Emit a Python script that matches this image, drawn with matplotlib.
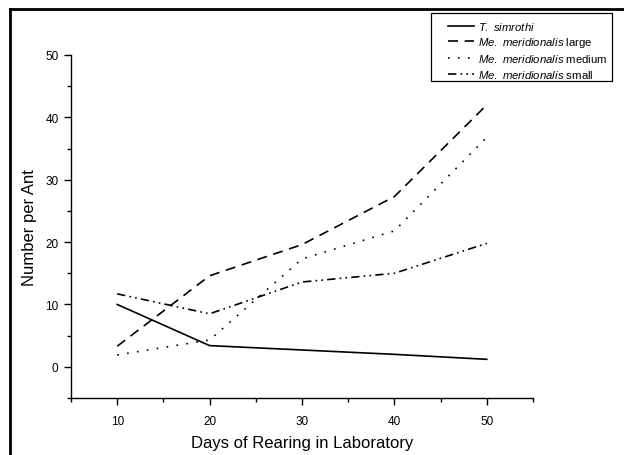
import numpy as np
import matplotlib
matplotlib.use("Agg")
import matplotlib.pyplot as plt
from matplotlib.lines import Line2D
from matplotlib.patches import Rectangle

plt.rcParams['font.family'] = ['Liberation Sans', 'DejaVu Sans']
plt.rcParams['mathtext.fontset'] = 'custom'
plt.rcParams['mathtext.rm'] = 'Liberation Sans'
plt.rcParams['mathtext.it'] = 'Liberation Sans:italic'

days = [10, 20, 30, 40, 50]
simrothi = [10.0, 3.4, 2.7, 2.0, 1.2]
mer_large = [3.3, 14.6, 19.6, 27.3, 42.0]
mer_medium = [1.9, 4.3, 17.3, 21.8, 36.8]
mer_small = [11.7, 8.5, 13.6, 15.0, 19.8]

labels = [r'$\it{T.\ simrothi}$',
          r'$\it{Me.\ meridionalis}$ large',
          r'$\it{Me.\ meridionalis}$ medium',
          r'$\it{Me.\ meridionalis}$ small']
styles = ['-', (0, (6, 4)), (0, (1, 5)), (0, (5, 2.5, 1, 2.5, 1, 2.5))]

W, H = 624, 456


def main():
    fig = plt.figure(figsize=(W / 100, H / 100), dpi=100)
    ax = fig.add_axes([71 / W, 57 / H, 462 / W, 343 / H])

    series = [simrothi, mer_large, mer_medium, mer_small]
    for ys, ls, lab in zip(series, styles, labels):
        ax.plot(days, ys, color='black', linestyle=ls, linewidth=1.2, label=lab)

    ax.set_xlim(5, 55)
    ax.set_ylim(-5, 50)
    ax.set_xticks([10, 20, 30, 40, 50])
    ax.set_xticks([5, 15, 25, 35, 45, 55], minor=True)
    ax.set_yticks([0, 10, 20, 30, 40, 50])
    ax.set_yticks([-5, 5, 15, 25, 35, 45], minor=True)
    ax.spines['top'].set_visible(False)
    ax.spines['right'].set_visible(False)
    for s in ['left', 'bottom']:
        ax.spines[s].set_linewidth(1.0)
    ax.tick_params(which='both', direction='out', width=1.0, labelsize=8.5)
    ax.tick_params(which='major', length=5)
    ax.tick_params(axis='x', which='major', pad=7)
    ax.tick_params(axis='y', which='major', pad=4)
    ax.tick_params(which='minor', length=3)
    ax.set_xlabel('Days of Rearing in Laboratory', fontsize=12, labelpad=6)
    ax.set_ylabel('Number per Ant', fontsize=12, labelpad=6)

    leg = ax.legend(loc='upper left', bbox_to_anchor=(448 / W, 1 - 21 / H),
                    bbox_transform=fig.transFigure, fontsize=8.2, frameon=False,
                    handlelength=2.3, handletextpad=0.3, labelspacing=0.28,
                    borderpad=0, borderaxespad=0)
    # legend box drawn by hand, text runs close to its right edge
    fig.add_artist(Rectangle((431 / W, 1 - 82 / H), 181 / W, 68 / H,
                             transform=fig.transFigure, fill=False,
                             edgecolor='black', linewidth=0.9))

    # frame of the original figure, only left and top edges show
    fig.add_artist(Line2D([10 / W, 10 / W], [0, 1 - 9.5 / H], color='black',
                          linewidth=2.0, transform=fig.transFigure))
    fig.add_artist(Line2D([10 / W, 1], [1 - 9.5 / H, 1 - 9.5 / H], color='black',
                          linewidth=2.0, transform=fig.transFigure))

    fig.savefig('out.png', dpi=100)


if __name__ == "__main__":
    main()
